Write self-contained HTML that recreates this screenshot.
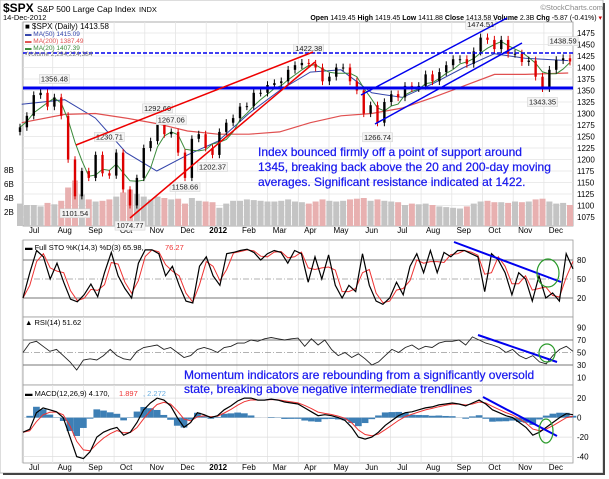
<!DOCTYPE html>
<html><head><meta charset="utf-8">
<style>
body{margin:0;background:#fff;}
svg{display:block;font-family:"Liberation Sans",sans-serif;}
</style></head>
<body>
<svg id="c" width="609" height="479" viewBox="0 0 609 479" xmlns="http://www.w3.org/2000/svg">
<rect x="0" y="0" width="603" height="473" fill="#fff" stroke="#bbb"/>
<line x1="604" y1="3" x2="604" y2="475" stroke="#444" stroke-width="2"/>
<line x1="3" y1="474" x2="605" y2="474" stroke="#444" stroke-width="2"/>
<text x="3" y="12" font-size="12" font-weight="bold">$SPX <tspan font-size="8.5" font-weight="normal">S&amp;P 500 Large Cap Index</tspan> <tspan font-size="7.5" font-weight="normal">INDX</tspan></text>
<text x="603" y="10" font-size="7.5" fill="#888" text-anchor="end">©StockCharts.com</text>
<text x="3" y="20" font-size="7.5">14-Dec-2012</text>
<text x="602" y="20" font-size="7" text-anchor="end"><tspan font-weight="bold">Open</tspan> 1419.45 <tspan font-weight="bold">High</tspan> 1419.45 <tspan font-weight="bold">Low</tspan> 1411.88 <tspan font-weight="bold">Close</tspan> 1413.58 <tspan font-weight="bold">Volume</tspan> 2.3B <tspan font-weight="bold">Chg</tspan> -5.87 (-0.41%) <tspan fill="#c00">▾</tspan></text>
<g id="g"></g>
</svg>
<script>
// ---- data ----
const months = ["Jul","Aug","Sep","Oct","Nov","Dec","2012","Feb","Mar","Apr","May","Jun","Jul","Aug","Sep","Oct","Nov","Dec"];
const closes = [1270,1295, 1340,1345,1315,1335,1295, 1200,1120,1175,1160,1210, 1170,1165,1215,1135, 1100,1160,1225,1240,1285, 1255,1260,1215,1160, 1245,1255,1225,1210,1260, 1280,1290,1315,1316, 1345,1345,1362,1366, 1370,1395,1405,1410,1408, 1400,1370,1380,1400, 1400,1370,1350,1300,1318, 1280,1325,1342,1335,1360, 1355,1360,1385,1370, 1390,1405,1418,1418,1408, 1435,1465,1460,1440, 1460,1430,1430,1412, 1415,1380,1355,1395,1416, 1420,1413];
const volumes = [3.2,3.0, 3.0,2.8,3.3,3.1,3.6, 5.5,6.5,4.5,3.8,3.5, 3.6,3.8,4.2,4.8, 5.2,4.6,4.2,3.8,4.2, 4.0,3.8,3.9,3.2, 4.0,3.6,3.5,3.4,2.6, 3.2,3.6,3.6,3.8, 3.7,3.6,3.5,3.5, 3.6,3.8,3.5,3.4,3.2, 3.5,3.8,3.6,3.5, 3.6,3.8,3.9,4.0,3.6, 3.8,3.6,3.5,3.4,3.0, 3.2,3.1,3.2,3.0, 2.8,2.7,2.6,2.5,2.8, 3.2,3.5,3.6,3.4, 3.4,3.3,3.5,3.4, 3.5,3.8,3.9,3.5,3.2, 3.3,3.0];
const ma50Month = [-0.4,1,2,3,4,5,6,7,8,9,10,11,12,13,14,15,16,17.4];
const ma50Vals = [1320,1330,1290,1215,1175,1210,1240,1300,1350,1390,1395,1345,1335,1365,1400,1430,1420,1415];
const ma200Month = [-0.4,1,2,3,4,5,6,7,8,9,10,11,12,13,14,15,16,17.4];
const ma200Vals = [1280,1298,1300,1290,1278,1262,1255,1255,1260,1280,1295,1300,1312,1335,1360,1385,1385,1388];
const stoK = [20,60, 95,85,50,75,45, 18,14,25,42,22, 60,92,55,35, 20,75,96,96,90, 55,70,40,15, 12,70,85,55,40, 90,92,95,97, 92,80,90,95, 92,75,95,90,45, 85,50,88,40, 20,40,30,90,40, 15,10,20,45,25, 70,90,60,95, 60,92,85,95,95, 90,85,30,90, 80,60,25,60, 50,15,55,20,28,15, 90,66];
const rsiVals = [50,65,68,60,52,55,45, 35,22,38,40,38, 45,55,45,40, 38,52,58,60,62, 55,58,50,42, 45,55,58,55,50, 58,60,65,65, 70,68,72,74, 72,70,72,73,60, 72,62,70,55, 45,50,42,48,40, 30,35,45,55,50, 58,62,55,60,58, 65,68,68,70,62, 75,70,65,62, 58,50,55,45, 40,45,35,32,45, 55,60,52];
const macdVals = [-15,-12, 5,10,8,6,0, -20,-40,-42,-35,-20, -15,-12,-10,-18, -15,-5,8,15,20, 18,12,0,-10, -5,5,3,0,2, 8,12,17,20, 20,18,18,19, 18,16,15,14,10, 6,2,3,2, 0,-3,-10,-20,-22, -20,-15,-8,-3,2, 5,6,8,10,11, 13,14,15,14,12, 15,18,14,8, 5,2,0,-5, -10,-18,-15,-10,-5, 0,4,3];
const priceTicks = [1075,1100,1125,1150,1175,1200,1225,1250,1275,1300,1325,1350,1375,1400,1425,1450,1475];
const volTicks = [2,4,6,8];
const peaks = [[5,1356.48,"1356.48"],[8,1101.54,"1101.54"],[16,1074.77,"1074.77"],[13,1230.71,"1230.71"],[20,1292.66,"1292.66"],[24,1158.66,"1158.66"],[22,1267.06,"1267.06"],[28,1202.37,"1202.37"],[42,1422.38,"1422.38"],[52,1266.74,"1266.74"],[67,1474.51,"1474.51"],[76,1343.35,"1343.35"],[79,1438.59,"1438.59"]];

// ---- geometry ----
const L=23,R=573;
const xi=i=>L-3+i*(550/(closes.length-1));
const xm=m=>34+m*30.7;
const yP=p=>33+(1475-p)*0.46;
const yV=v=>226-v*7;
const yS=v=>260+(80-v)*0.633;
const yR=v=>340+(70-v)*0.625;
const yM=v=>417.6-v*0.975;
const G=document.getElementById('g');
const NS="http://www.w3.org/2000/svg";
function mk(tag,a,txt){const e=document.createElementNS(NS,tag);for(const k in a)e.setAttribute(k,a[k]);if(txt!==undefined)e.textContent=txt;G.appendChild(e);return e;}
function pts(arr,fx,fy){return arr.map((v,i)=>fx(i).toFixed(1)+","+fy(v).toFixed(1)).join(" ");}

// panels
const panels=[[22,226,"main-panel"],[240,317,"sto-panel"],[317,385,"rsi-panel"],[385,463,"macd-panel"]];
panels.forEach(p=>{
  const r=mk('rect',{x:L,y:p[0],width:R-L,height:p[1]-p[0],fill:"#fff",stroke:"#999","stroke-width":0.8});
  
  
  months.forEach((m,k)=>{
    const gl=mk('line',{x1:xm(k)-12,x2:xm(k)-12,y1:p[0],y2:p[1],stroke:"#e4e4e4","stroke-width":0.8});
    
    
  });
});
[233,470].forEach(yy=>{
  months.forEach((m,k)=>{
    const t=mk('text',{x:xm(k),y:yy,"font-size":8,"text-anchor":"middle","font-weight":m==="2012"?"bold":"normal"},m);
    
    
  });
});
priceTicks.forEach(p=>{
  const gl=mk('line',{x1:L,x2:R,y1:yP(p),y2:yP(p),stroke:"#e4e4e4","stroke-width":0.8});
  
  
  const t=mk('text',{x:577,y:yP(p)+3,"font-size":8},p);
  
  
});
volTicks.forEach(v=>{
  const t=mk('text',{x:4,y:yV(v)+3,"font-size":8},v+"B");
  
  
});
volumes.forEach((v,i)=>{
  const b=mk('rect',{x:xi(i)-3,y:yV(v),width:6,height:226-yV(v),fill:(i>0&&closes[i]<closes[i-1])?"#e8b0b0":"#c4c4c4"});
  
  
});
const ma50=mk('polyline',{points:ma50Vals.map((v,k)=>xm(ma50Month[k]).toFixed(1)+","+yP(v).toFixed(1)).join(" "),fill:"none",stroke:"#3344aa","stroke-width":1});


const ma200=mk('polyline',{points:ma200Vals.map((v,k)=>xm(ma200Month[k]).toFixed(1)+","+yP(v).toFixed(1)).join(" "),fill:"none",stroke:"#e05050","stroke-width":1.2});


const ma20v=closes.map((c,i)=>{const s=closes.slice(Math.max(0,i-3),i+1);return s.reduce((a,b)=>a+b,0)/s.length;});
const ma20=mk('polyline',{points:pts(ma20v,xi,yP),fill:"none",stroke:"#3a8a3a","stroke-width":1});


closes.forEach((c,i)=>{
  const o=i>0?closes[i-1]:c-10;
  const hi=Math.max(o,c)*1.006, lo=Math.min(o,c)*0.994;
  const col=c>=o?"#000":"#d00";
  const w=mk('line',{x1:xi(i),x2:xi(i),y1:yP(hi),y2:yP(lo),stroke:col,"stroke-width":1});
  
  
  const b=mk('rect',{x:xi(i)-1.2,y:yP(Math.max(o,c)),width:2.4,height:Math.max(1,Math.abs(yP(o)-yP(c))),fill:col});
  
  
});
peaks.forEach(pk=>{
  const x=xi(pk[0]);const up=pk[1]>=closes[pk[0]];
  const y=up?yP(pk[1])-6:yP(pk[1])+11;
  const bg=mk('rect',{x:x-15,y:y-7,width:30,height:9,fill:"#f4f4f4",stroke:"#ccc","stroke-width":0.5});
  
  
  const t=mk('text',{x:x,y:y,"font-size":7.5,"text-anchor":"middle",fill:"#222"},pk[2]);
  
  
});
function line(x1,y1,x2,y2,col,w,name,dash){const l=mk('line',{x1:x1,y1:y1,x2:x2,y2:y2,stroke:col,"stroke-width":w});if(dash)l.setAttribute('stroke-dasharray',dash);return l;}
line(L,88,R,88,"#0000ee",3,"support-line-1345");
line(L,53,R,53,"#0000ee",1.5,"resistance-line-1422","4,2");
line(76,145,313,52,"#ee0000",1.5,"red-upper-trendline");
line(130,218,315,62,"#ee0000",1.5,"red-lower-trendline");
line(361,95,507,18,"#0000ee",1.5,"blue-upper-channel");
line(375,124,522,43,"#0000ee",1.5,"blue-lower-channel");
const leg=[["■ $SPX (Daily) 1413.58","#000",29],["▬ MA(50) 1415.09","#3344aa",36],["▬ MA(200) 1387.49","#e05050",43],["▬ MA(20) 1407.39","#3a8a3a",50],["▪Volume 2,294,224,384","#777",56]];
leg.forEach(l=>{const t=mk('text',{x:25,y:l[2],"font-size":l[2]===29?8:6.5,fill:l[1]},l[0]);});
["Index bounced firmly off a point of support around","1345, breaking back above the 20 and 200-day moving","averages.   Significant resistance indicated at 1422."].forEach((s,k)=>{
  const t=mk('text',{x:258,y:156+k*15,"font-size":12,fill:"#1a1aee",stroke:"#1a1aee","stroke-width":0.25},s);
  
  
});
[80,50,20].forEach(v=>{line(L,yS(v),R,yS(v),v===50?"#999":"#777",v===50?0.8:1,"sto-level-line",v===50?"6,2,1,2":null);
  const t=mk('text',{x:577,y:yS(v)+3,"font-size":8},v);});
const stoD=stoK.map((v,i)=>{const s=stoK.slice(Math.max(0,i-1),i+1);return s.reduce((a,b)=>a+b,0)/s.length;});
const xs=i=>L+i*(550/(stoK.length-1));
const sd=mk('polyline',{points:pts(stoD,xs,yS),fill:"none",stroke:"#e33", "stroke-width":1});


const sk=mk('polyline',{points:pts(stoK,xs,yS),fill:"none",stroke:"#000","stroke-width":1.2});


const stl=mk('text',{x:25,y:250,"font-size":7.5},"▬ Full STO %K(14,3) %D(3) 65.98, ");


const stl2=mk('text',{x:165,y:250,"font-size":7.5,fill:"#e33"},"76.27");


line(454,242,561,282,"#0000ee",2,"sto-trendline");
const e1=mk('ellipse',{cx:548,cy:273,rx:11,ry:14,fill:"none",stroke:"#2a9a2a","stroke-width":1.2});


[90,70,50,30,10].forEach(v=>{
  if(v===70||v===30)line(L,yR(v),R,yR(v),"#777",1,"rsi-level-line");
  if(v===50)line(L,yR(v),R,yR(v),"#999",0.8,"rsi-mid-line","6,2,1,2");
  const t=mk('text',{x:577,y:yR(v)+3,"font-size":8},v);});
const xr=i=>L+i*(550/(rsiVals.length-1));
const rl=mk('polyline',{points:pts(rsiVals,xr,yR),fill:"none",stroke:"#222","stroke-width":0.9});


const rlg=mk('text',{x:25,y:325,"font-size":7.5},"▲ RSI(14) 51.62");


line(478,335,557,362,"#0000ee",2,"rsi-trendline");
const e2=mk('ellipse',{cx:547,cy:353,rx:8,ry:9,fill:"none",stroke:"#2a9a2a","stroke-width":1.2});


["Momentum indicators are rebounding from a significantly oversold","state, breaking above negative intermediate trendlines"].forEach((s,k)=>{
  const t=mk('text',{x:184,y:379+k*14,"font-size":12,fill:"#1a1aee",stroke:"#1a1aee","stroke-width":0.25},s);
  
  
});
[20,0,-20,-40].forEach(v=>{
  line(L,yM(v),R,yM(v),"#ddd",0.8,"macd-gridline");
  const t=mk('text',{x:577,y:yM(v)+3,"font-size":8},v);});
const sig=[];macdVals.forEach((v,i)=>{sig.push(i===0?v:sig[i-1]+(v-sig[i-1])*0.5);});
const xmc=i=>L+i*(550/(macdVals.length-1));
const bw=550/(macdVals.length-1);
macdVals.forEach((v,i)=>{const h=(v-sig[i])*1.2;
  const b=mk('rect',{x:xmc(i)-bw/2,y:Math.min(yM(0),yM(h)),width:bw,height:Math.abs(yM(h)-yM(0)),fill:"#3d7fb5"});
  
  });
const sl=mk('polyline',{points:pts(sig,xmc,yM),fill:"none",stroke:"#e33","stroke-width":1});


const ml=mk('polyline',{points:pts(macdVals,xmc,yM),fill:"none",stroke:"#000","stroke-width":1.2});


const mlg=mk('text',{x:25,y:396,"font-size":7.5},"▬ MACD(12,26,9) 4.170, ");


const mlg2=mk('text',{x:119,y:396,"font-size":7.5,fill:"#e33"},"1.897");


const mlg3=mk('text',{x:143,y:396,"font-size":7.5,fill:"#6aaee0"},", 2.272");


line(483,397,557,436,"#0000ee",2,"macd-trendline");
const e3=mk('ellipse',{cx:546,cy:431,rx:7,ry:12,fill:"none",stroke:"#2a9a2a","stroke-width":1.2});


</script>
</body></html>
